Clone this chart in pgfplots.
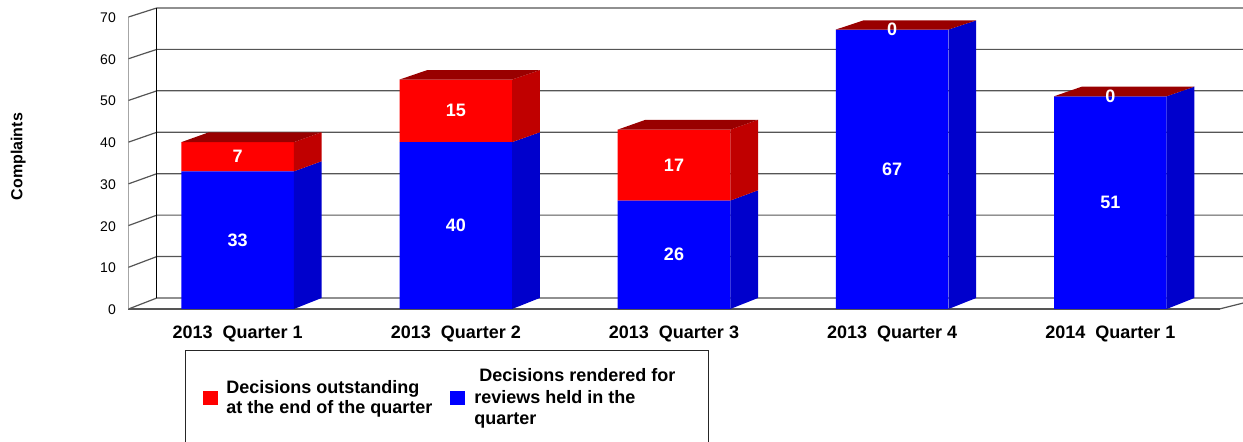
\documentclass[border=0pt]{standalone}
\usepackage{fontspec}
\setmainfont{Liberation Sans}
\usepackage{pgfplots}
\usepackage{pgfplotstable}
\pgfplotsset{compat=1.18}

\definecolor{frontred}{HTML}{FF0000}
\definecolor{sidered}{HTML}{C00000}
\definecolor{topred}{HTML}{990000}
\definecolor{frontblue}{HTML}{0000FF}
\definecolor{sideblue}{HTML}{0000CC}
\definecolor{wallline}{HTML}{555555}

% 1 px of the reference = 0.75pt here
\pgfplotstableread{
x rendered outstanding
1 33 7
2 40 15
3 26 17
4 67 0
5 51 0
}\quarters

\pgfplotstableread{
x y label
1 16.5 33
2 20 40
3 13 26
4 33.5 67
5 25.5 51
1 36.5 7
2 47.5 15
3 34.5 17
4 67 0
5 51 0
}\barlabels

\newcommand{\wall}[2]{\draw[wallline,line width=0.9pt] (axis cs:0.5,#1) -- (axis cs:0.63,#2) -- (axis cs:5.7,#2);}

\pgfplotsset{
  chartbase/.style={
    at={(96.375pt,99.75pt)}, anchor=south west,
    scale only axis, width=818.25pt, height=219pt,
    xmin=0.5, xmax=5.5, ymin=0, ymax=70,
    clip=false,
  },
}

\begin{document}
\begin{tikzpicture}
\path[use as bounding box] (0,0) rectangle (932.25pt,331.5pt);
% axes and back wall
\begin{axis}[chartbase,
  axis x line*=bottom, axis y line*=left,
  axis line style={-},
  x axis line style={wallline,line width=0.9pt},
  y axis line style={gray!70,line width=1.3pt},
  major tick length=0pt,
  xtick={1,2,3,4,5},
  xticklabels={2013\ \ Quarter 1,2013\ \ Quarter 2,2013\ \ Quarter 3,2013\ \ Quarter 4,2014\ \ Quarter 1},
  xticklabel style={font=\fontsize{13.5pt}{15pt}\selectfont\bfseries,yshift=-9.4pt},
  ytick={0,10,...,70},
  yticklabel style={font=\fontsize{10.5pt}{12pt}\selectfont,xshift=-6pt,yshift=-0.5pt},
  /pgf/number format/assume math mode=true,
  ylabel={Complaints},
  ylabel style={at={(axis description cs:-0.101,0.522)},anchor=center,font=\fontsize{12pt}{14pt}\selectfont\bfseries},
]
\wall{0}{2.64}
\wall{10}{12.57}
\wall{20}{22.5}
\wall{30}{32.44}
\wall{40}{42.37}
\wall{50}{52.3}
\wall{60}{62.24}
\wall{70}{72.17}
\draw[black,line width=0.9pt] (axis cs:0.63,2.64) -- (axis cs:0.63,72.17);
\draw[wallline,line width=0.9pt] (axis cs:5.5,0) -- (axis cs:5.7,2.64);
\end{axis}

% front faces
\begin{axis}[chartbase, hide axis, ybar stacked, bar width=84.4pt]
\addplot[fill=frontblue,draw=none] table[x=x,y=rendered] {\quarters};
\addplot[fill=frontred,draw=none] table[x=x,y=outstanding] {\quarters};
\end{axis}

% side and top faces, value labels
\begin{axis}[chartbase, hide axis]
\addplot[fill=sideblue,draw=none] coordinates {(1.258,0) (1.385,2.64) (1.385,35.42) (1.258,33)} -- cycle;
\addplot[fill=sideblue,draw=none] coordinates {(2.258,0) (2.385,2.64) (2.385,42.37) (2.258,40)} -- cycle;
\addplot[fill=sideblue,draw=none] coordinates {(3.258,0) (3.385,2.64) (3.385,28.46) (3.258,26)} -- cycle;
\addplot[fill=sideblue,draw=none] coordinates {(4.258,0) (4.385,2.64) (4.385,69.19) (4.258,67)} -- cycle;
\addplot[fill=sideblue,draw=none] coordinates {(5.258,0) (5.385,2.64) (5.385,53.3) (5.258,51)} -- cycle;
\addplot[fill=sidered,draw=none] coordinates {(1.258,33) (1.385,35.42) (1.385,42.37) (1.258,40)} -- cycle;
\addplot[fill=sidered,draw=none] coordinates {(2.258,40) (2.385,42.37) (2.385,57.27) (2.258,55)} -- cycle;
\addplot[fill=sidered,draw=none] coordinates {(3.258,26) (3.385,28.46) (3.385,45.35) (3.258,43)} -- cycle;
\addplot[fill=topred,draw=none] coordinates {(0.742,40) (0.869,42.37) (1.385,42.37) (1.258,40)} -- cycle;
\addplot[fill=topred,draw=none] coordinates {(1.742,55) (1.869,57.27) (2.385,57.27) (2.258,55)} -- cycle;
\addplot[fill=topred,draw=none] coordinates {(2.742,43) (2.869,45.35) (3.385,45.35) (3.258,43)} -- cycle;
\addplot[fill=topred,draw=none] coordinates {(3.742,67) (3.869,69.19) (4.385,69.19) (4.258,67)} -- cycle;
\addplot[fill=topred,draw=none] coordinates {(4.742,51) (4.869,53.3) (5.385,53.3) (5.258,51)} -- cycle;
\addplot[only marks,mark=none,point meta=explicit symbolic,
  nodes near coords,
  every node near coord/.style={anchor=center,text=white,font=\fontsize{13.5pt}{15pt}\selectfont\bfseries}]
  table[x=x,y=y,meta=label] {\barlabels};
\end{axis}

% legend box, cut off by the bottom edge
\begin{scope}[x=0.75pt,y=0.75pt]
\draw[black!85,line width=0.75pt] (185,-5) -- (185,91) -- (708,91) -- (708,-5);
\fill[frontred] (202.5,36.5) rectangle (218,51);
\fill[frontblue] (449.5,37) rectangle (465,50.5);
\begin{scope}[every node/.style={anchor=base west,inner sep=0pt,font=\fontsize{13.5pt}{15pt}\selectfont\bfseries}]
\node at (226,48.7) {Decisions outstanding};
\node at (226,28.7) {at the end of the quarter};
\node at (479,60.3) {Decisions rendered for};
\node at (474,38.7) {reviews held in the};
\node at (474,17.7) {quarter};
\end{scope}
\end{scope}
\end{tikzpicture}
\end{document}
